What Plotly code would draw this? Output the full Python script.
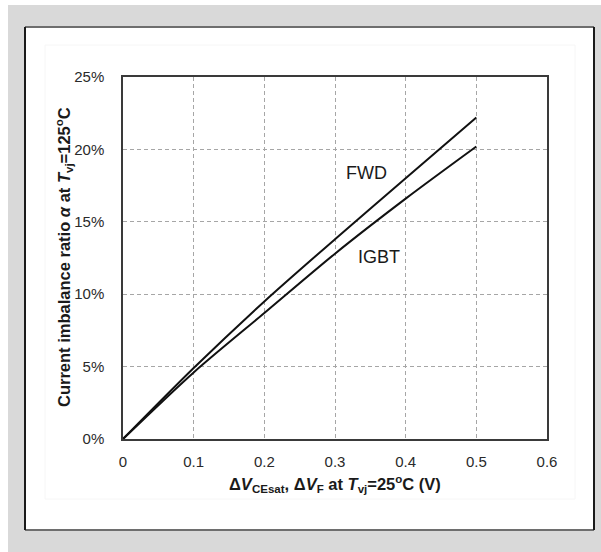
import plotly.graph_objects as go

dv = [0, 0.1, 0.2, 0.3, 0.4, 0.5]
fwd = [0, 4.9, 9.5, 13.8, 18.0, 22.2]
igbt = [0, 4.6, 8.7, 12.8, 16.6, 20.2]
x_ticks = [0, 0.1, 0.2, 0.3, 0.4, 0.5, 0.6]
y_ticks = [0, 5, 10, 15, 20, 25]

W, H = 601, 552
L, R, T, B = 123, 547, 77, 439

def xp(px):
    return (px - L) / (R - L)

def yp(py):
    return (B - py) / (B - T)

fig = go.Figure()
for name, ys in [("FWD", fwd), ("IGBT", igbt)]:
    fig.add_trace(go.Scatter(x=dv, y=ys, mode="lines", name=name,
                             line=dict(color="#111111", width=2, shape="spline", smoothing=0.8),
                             showlegend=False))

shapes = [
    dict(type="rect", xref="paper", yref="paper", x0=xp(8), x1=xp(601), y0=yp(5), y1=yp(552),
         fillcolor="#d9d9d9", line=dict(width=0), layer="below"),
    dict(type="rect", xref="paper", yref="paper", x0=xp(25), x1=xp(594), y0=yp(27), y1=yp(530),
         fillcolor="#ffffff", line=dict(width=0), layer="below"),
    dict(type="rect", xref="paper", yref="paper", x0=xp(45), x1=xp(575), y0=yp(45), y1=yp(499),
         fillcolor="rgba(0,0,0,0)", line=dict(width=1, color="#f6f6f6"), layer="below"),
    dict(type="line", xref="paper", yref="paper", x0=xp(25), x1=xp(594), y0=yp(27), y1=yp(27),
         line=dict(width=2, color="#6e6e6e"), layer="below"),
    dict(type="line", xref="paper", yref="paper", x0=xp(25), x1=xp(594), y0=yp(530), y1=yp(530),
         line=dict(width=2, color="#6e6e6e"), layer="below"),
    dict(type="line", xref="paper", yref="paper", x0=xp(25), x1=xp(25), y0=yp(27), y1=yp(530),
         line=dict(width=2, color="#1a1a1a"), layer="below"),
    dict(type="line", xref="paper", yref="paper", x0=xp(594), x1=xp(594), y0=yp(27), y1=yp(530),
         line=dict(width=2, color="#1a1a1a"), layer="below"),
]

font_family = "Liberation Sans, Arial, sans-serif"

annotations = [
    dict(x=0.344, y=18.4, xref="x", yref="y", text="FWD", showarrow=False,
         xanchor="center", yanchor="middle",
         font=dict(size=18, color="#1a1a1a", family=font_family)),
    dict(x=0.362, y=12.6, xref="x", yref="y", text="IGBT", showarrow=False,
         xanchor="center", yanchor="middle",
         font=dict(size=18, color="#1a1a1a", family=font_family)),
    dict(x=xp(335), y=yp(484), xref="paper", yref="paper", showarrow=False,
         xanchor="center", yanchor="middle",
         text="<b>Δ<i>V</i><sub>CEsat</sub>, Δ<i>V</i><sub>F</sub> at <i>T</i><sub>vj</sub>=25<sup>o</sup>C (V)</b>",
         font=dict(size=16.5, color="#1a1a1a", family=font_family)),
    dict(x=xp(64), y=yp(257), xref="paper", yref="paper", showarrow=False, textangle=-90,
         xanchor="center", yanchor="middle",
         text="<b>Current imbalance ratio <i>α</i> at <i>T</i><sub>vj</sub>=125<sup>o</sup>C</b>",
         font=dict(size=16.5, color="#1a1a1a", family=font_family)),
]

fig.update_layout(
    width=W, height=H,
    margin=dict(l=L, r=W - R, t=T, b=H - B),
    paper_bgcolor="#ffffff",
    plot_bgcolor="rgba(0,0,0,0)",
    shapes=shapes,
    annotations=annotations,
    font=dict(family=font_family, size=15, color="#333333"),
    xaxis=dict(range=[0, 0.6], tickvals=x_ticks, ticktext=[str(v) for v in x_ticks],
               showgrid=True, gridcolor="#a6a6a6", griddash="4px,3px", gridwidth=1,
               showline=True, mirror=True, linecolor="#3a3a3a", linewidth=1.5,
               ticks="", zeroline=False, tickfont=dict(size=15, color="#2a2a2a"),
               ticklabelstandoff=8),
    yaxis=dict(range=[0, 25], tickvals=y_ticks, ticktext=[f"{v}%" for v in y_ticks],
               showgrid=True, gridcolor="#a6a6a6", griddash="4px,3px", gridwidth=1,
               showline=True, mirror=True, linecolor="#3a3a3a", linewidth=1.5,
               ticks="", zeroline=False, tickfont=dict(size=15, color="#2a2a2a"),
               ticklabelstandoff=14),
)

fig.write_html("out.html")
